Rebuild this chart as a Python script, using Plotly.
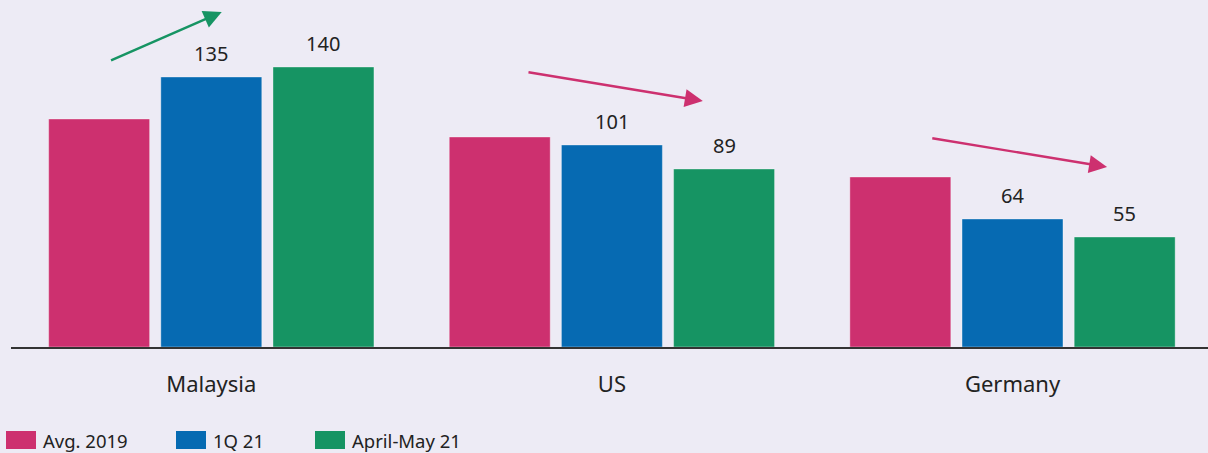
import plotly.graph_objects as go

BG = "#EDEBF5"
INK = "#222222"

countries = ["Malaysia", "US", "Germany"]
series_names = ["Avg. 2019", "1Q 21", "April-May 21"]
series_colors = ["#CD306F", "#066AB2", "#169463"]
avg_2019 = [114, 105, 85]
q1_21 = [135, 101, 64]
apr_may_21 = [140, 89, 55]
show_labels = [False, True, True]

# trend arrows: (tail x, tail y, head x, head y, colour) in data units
arrows = [
    (-0.254, 143, 0.026, 167.5, "#169463"),
    (0.788, 137.5, 1.227, 123, "#CD306F"),
    (1.796, 104.5, 2.236, 90, "#CD306F"),
]

BARGAP = 0.16
slot = (1 - BARGAP) / len(series_names)

fig = go.Figure()
all_values = [avg_2019, q1_21, apr_may_21]
for k, (name, values, color, lab) in enumerate(zip(series_names, all_values, series_colors, show_labels)):
    fig.add_trace(
        go.Bar(
            x=countries,
            y=values,
            name=name,
            marker=dict(color=color, line=dict(color="rgba(255,255,255,0.35)", width=1)),
            showlegend=False,
        )
    )
    if lab:
        offset = (k - (len(series_names) - 1) / 2) * slot
        for i, v in enumerate(values):
            fig.add_annotation(
                x=i + offset, y=v, xref="x", yref="y", text=str(v), showarrow=False,
                yanchor="bottom", yshift=8, font=dict(size=20, color=INK),
            )

for x0, y0, x1, y1, color in arrows:
    fig.add_annotation(
        x=x1, y=y1, ax=x0, ay=y0, xref="x", yref="y", axref="x", ayref="y",
        showarrow=True, arrowhead=2, arrowsize=1.5, arrowwidth=2.4, arrowcolor=color, text="",
    )

# legend drawn by hand with wide swatches
legend_x = [6, 176, 315]
for name, color, lx in zip(series_names, series_colors, legend_x):
    fig.add_shape(
        type="rect", xref="paper", yref="paper",
        x0=(lx - 11) / 1197, x1=(lx + 19) / 1197,
        y0=(347 - 449) / 347, y1=(347 - 431) / 347,
        fillcolor=color, line_width=0,
    )
    fig.add_annotation(
        x=(lx + 24) / 1197, y=(347 - 440) / 347, xref="paper", yref="paper",
        text=name, showarrow=False, xanchor="left", yanchor="middle",
        font=dict(size=18.5, color=INK),
    )

fig.update_layout(
    width=1208,
    height=453,
    barmode="group",
    bargap=BARGAP,
    bargroupgap=0.1,
    paper_bgcolor=BG,
    plot_bgcolor=BG,
    font=dict(family="Noto Sans, Arial, sans-serif", color=INK, size=20),
    margin=dict(l=11, r=0, t=0, b=106),
)
fig.update_xaxes(
    range=[-0.5, 2.488], showline=True, linecolor="#333333", linewidth=1.5,
    ticks="", tickfont=dict(size=22, color=INK), ticklabelstandoff=17,
)
fig.update_yaxes(range=[0, 173.5], visible=False, showgrid=False, zeroline=False)

fig.write_html(
    "out.html",
    config={"displayModeBar": False},
    post_script="document.body.style.margin='0';",
)
